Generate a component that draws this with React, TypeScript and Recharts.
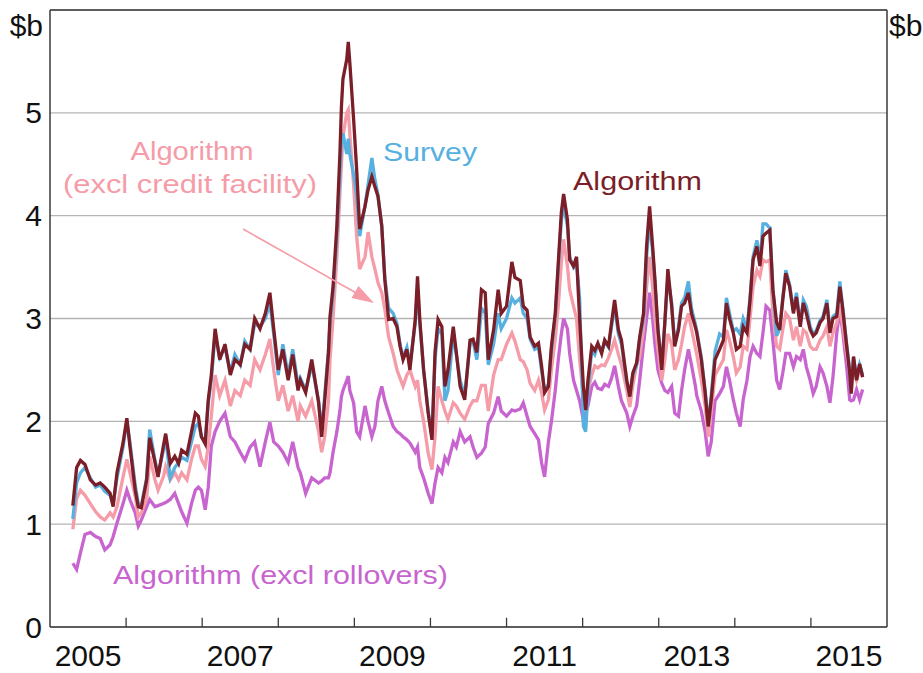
import { LineChart, Line, XAxis, YAxis, CartesianGrid, ReferenceLine } from "recharts";

// time in fractional years
const dates = [
  2005.3, 2005.35, 2005.4, 2005.46, 2005.53, 2005.6, 2005.66, 2005.72, 2005.79, 2005.83,
  2005.88, 2005.96, 2006.01, 2006.05, 2006.12, 2006.16, 2006.2, 2006.27, 2006.31, 2006.38,
  2006.42, 2006.49, 2006.52, 2006.58, 2006.64, 2006.69, 2006.73, 2006.8, 2006.86, 2006.91,
  2006.95, 2006.99, 2007.04, 2007.08, 2007.12, 2007.17, 2007.23, 2007.3, 2007.37, 2007.43,
  2007.5, 2007.56, 2007.63, 2007.69, 2007.76, 2007.83, 2007.89, 2007.94, 2008.0, 2008.06,
  2008.13, 2008.19, 2008.26, 2008.29, 2008.36, 2008.44, 2008.53, 2008.57, 2008.61, 2008.66,
  2008.68, 2008.72, 2008.77, 2008.81, 2008.83, 2008.85, 2008.9, 2008.92, 2008.94, 2008.99,
  2009.03, 2009.07, 2009.14, 2009.18, 2009.23, 2009.27, 2009.31, 2009.36, 2009.4, 2009.45,
  2009.51, 2009.56, 2009.6, 2009.64, 2009.69, 2009.73, 2009.8, 2009.83, 2009.86, 2009.91,
  2009.97, 2010.02, 2010.06, 2010.1, 2010.15, 2010.19, 2010.23, 2010.3, 2010.34, 2010.39,
  2010.45, 2010.52, 2010.56, 2010.61, 2010.67, 2010.72, 2010.76, 2010.83, 2010.89, 2010.93,
  2011.0, 2011.07, 2011.11, 2011.18, 2011.22, 2011.27, 2011.31, 2011.37, 2011.42, 2011.46,
  2011.5, 2011.55, 2011.59, 2011.64, 2011.68, 2011.72, 2011.75, 2011.8, 2011.83, 2011.88,
  2011.92, 2011.96, 2012.01, 2012.04, 2012.07, 2012.12, 2012.16, 2012.2, 2012.25, 2012.29,
  2012.34, 2012.38, 2012.42, 2012.47, 2012.51, 2012.58, 2012.62, 2012.66, 2012.71, 2012.75,
  2012.8, 2012.84, 2012.88, 2012.92, 2012.95, 2012.99, 2013.04, 2013.08, 2013.12, 2013.17,
  2013.21, 2013.26, 2013.3, 2013.34, 2013.39, 2013.43, 2013.48, 2013.5, 2013.56, 2013.61,
  2013.65, 2013.69, 2013.74, 2013.8, 2013.85, 2013.89, 2013.93, 2013.98, 2014.02, 2014.07,
  2014.11, 2014.16, 2014.2, 2014.24, 2014.29, 2014.33, 2014.37, 2014.41, 2014.46, 2014.5,
  2014.55, 2014.59, 2014.63, 2014.67, 2014.72, 2014.77, 2014.81, 2014.86, 2014.9, 2014.94,
  2014.99, 2015.03, 2015.07, 2015.12, 2015.16, 2015.21, 2015.25, 2015.29, 2015.34, 2015.38,
  2015.42, 2015.47, 2015.51, 2015.53, 2015.56, 2015.6, 2015.64, 2015.68,
];

const algorithm = [
  1.18, 1.55, 1.62, 1.58, 1.43, 1.38, 1.4, 1.36, 1.3, 1.17,
  1.5, 1.79, 2.03, 1.76, 1.33, 1.17, 1.16, 1.43, 1.84, 1.6,
  1.46, 1.76, 1.88, 1.59, 1.66, 1.59, 1.72, 1.68, 1.9, 2.08,
  2.05, 1.85, 1.78, 2.21, 2.45, 2.9, 2.6, 2.75, 2.45, 2.6,
  2.55, 2.75, 2.7, 3.0, 2.9, 3.05, 3.25, 2.9, 2.5, 2.7,
  2.4, 2.65, 2.3, 2.4, 2.28, 2.6, 2.18, 1.85, 2.2, 2.67,
  3.02, 3.31, 3.9, 4.6, 5.06, 5.33, 5.52, 5.69, 5.49, 4.94,
  4.45, 3.87, 4.09, 4.25, 4.38, 4.28, 4.19, 3.9, 3.38, 2.99,
  3.0, 2.92, 2.73, 2.6, 2.7, 2.5, 2.99, 3.41, 2.99, 2.5,
  2.08, 1.82, 2.67, 2.99, 2.92, 2.34, 2.5, 2.92, 2.67, 2.34,
  2.21, 2.79, 2.8, 2.67, 3.28, 3.25, 2.6, 2.89, 3.28, 3.05,
  3.12, 3.55, 3.4, 3.37, 3.12, 3.08, 2.82, 2.73, 2.76, 2.54,
  2.28, 2.34, 2.73, 3.05, 3.54, 4.03, 4.21, 3.96, 3.57, 3.51,
  3.6, 3.0, 2.34, 2.11, 2.4, 2.73, 2.69, 2.76, 2.66, 2.79,
  2.73, 2.96, 3.18, 2.89, 2.79, 2.4, 2.24, 2.47, 2.57, 2.82,
  3.05, 3.7, 4.09, 3.7, 3.38, 2.89, 2.5, 2.96, 3.48, 3.12,
  2.73, 2.89, 3.12, 3.15, 3.25, 3.05, 2.92, 2.86, 2.6, 2.28,
  1.95, 2.21, 2.6, 2.7, 2.79, 3.15, 3.0, 2.86, 2.7, 2.73,
  2.92, 2.86, 3.18, 3.57, 3.7, 3.51, 3.8, 3.83, 3.86, 3.28,
  2.96, 2.89, 3.18, 3.44, 3.31, 3.05, 3.21, 2.92, 3.15, 3.05,
  2.89, 2.83, 2.86, 2.96, 3.0, 3.15, 2.86, 3.0, 3.02, 3.31,
  3.08, 2.73, 2.47, 2.27, 2.63, 2.4, 2.56, 2.43,
];

const survey = [
  1.05, 1.4, 1.5, 1.55, 1.45, 1.36, 1.38, 1.32, 1.28, 1.2,
  1.45, 1.75, 2.0, 1.8, 1.38, 1.2, 1.18, 1.45, 1.92, 1.62,
  1.48, 1.72, 1.85, 1.45, 1.55, 1.6, 1.65, 1.62, 1.8, 1.95,
  1.98, 1.85, 1.8, 2.18, 2.4, 2.85, 2.62, 2.72, 2.48, 2.65,
  2.55, 2.78, 2.7, 2.95, 2.92, 3.0, 3.15, 2.85, 2.45, 2.75,
  2.45, 2.7, 2.35, 2.42, 2.3, 2.55, 2.2, 1.9, 2.25, 2.7,
  2.95, 3.25, 3.8, 4.4, 4.7, 4.8, 4.6, 4.75, 4.6, 4.4,
  4.2, 3.8, 4.1, 4.3, 4.56, 4.35, 4.2, 3.9, 3.4, 3.1,
  3.05, 2.95, 2.75, 2.62, 2.72, 2.55, 2.95, 3.3, 2.95, 2.5,
  2.1, 1.85, 2.6, 2.9, 2.85, 2.2, 2.3, 2.85, 2.65, 2.4,
  2.25, 2.75, 2.78, 2.6, 3.1, 3.05, 2.55, 2.75, 3.05, 2.9,
  3.0, 3.2, 3.15, 3.2, 3.05, 3.0, 2.8, 2.7, 2.72, 2.5,
  2.3, 2.36, 2.7, 3.02, 3.5, 3.95, 4.1, 3.9, 3.6, 3.5,
  3.55, 3.2, 1.95, 1.9, 2.3, 2.7, 2.65, 2.75, 2.68, 2.78,
  2.72, 2.92, 3.12, 2.85, 2.75, 2.38, 2.25, 2.45, 2.55, 2.8,
  3.0, 3.6, 3.95, 3.65, 3.35, 2.9, 2.55, 2.95, 3.4, 3.15,
  2.75, 2.92, 3.15, 3.2, 3.36, 3.1, 2.95, 2.88, 2.62, 2.3,
  1.98, 2.25, 2.68, 2.85, 2.82, 3.2, 3.05, 2.88, 2.9, 2.85,
  3.0, 2.9, 3.2, 3.6, 3.76, 3.55, 3.92, 3.92, 3.88, 3.3,
  2.83, 2.9, 3.2, 3.47, 3.33, 3.08, 3.25, 2.95, 3.18, 3.12,
  2.92, 2.85, 2.88, 2.98, 3.02, 3.18, 2.88, 3.02, 3.05, 3.36,
  3.1, 2.75, 2.5, 2.3, 2.62, 2.42, 2.55, 2.45,
];

const exclCreditFacility = [
  0.95, 1.25, 1.33, 1.28, 1.2, 1.12, 1.07, 1.04, 1.11, 1.07,
  1.17, 1.46, 1.63, 1.5, 1.27, 1.07, 1.11, 1.24, 1.66, 1.43,
  1.33, 1.46, 1.56, 1.43, 1.5, 1.43, 1.5, 1.43, 1.63, 1.76,
  1.76, 1.63, 1.56, 1.76, 2.05, 2.45, 2.25, 2.4, 2.15, 2.3,
  2.25, 2.4, 2.35, 2.6, 2.5, 2.65, 2.8, 2.5, 2.2, 2.35,
  2.1, 2.25, 2.0, 2.15, 2.05, 2.2, 1.9, 1.7, 1.85, 2.2,
  2.6, 3.0, 3.6, 4.2, 4.5, 4.77, 5.0, 5.03, 4.8, 4.3,
  3.8, 3.48, 3.6, 3.84, 3.6, 3.48, 3.35, 3.25, 3.09, 2.82,
  2.66, 2.5, 2.42, 2.34, 2.45, 2.5, 2.34, 2.4, 2.2, 2.0,
  1.69, 1.53, 1.85, 2.34, 2.2, 2.1, 2.02, 2.18, 2.15, 2.08,
  2.02, 2.15, 2.2, 2.2, 2.35, 2.35, 2.1, 2.45, 2.6, 2.6,
  2.75, 2.86, 2.78, 2.6, 2.58, 2.5, 2.37, 2.3, 2.4, 2.28,
  2.11, 2.21, 2.5, 2.8, 3.12, 3.54, 3.77, 3.51, 3.28, 3.12,
  3.0, 2.6, 2.24, 2.14, 2.3, 2.45, 2.54, 2.52, 2.55, 2.54,
  2.62, 2.7, 2.79, 2.65, 2.55, 2.3, 2.14, 2.35, 2.55, 2.63,
  2.9, 3.3, 3.6, 3.3, 3.0, 2.7, 2.4, 2.6, 2.85, 2.75,
  2.5, 2.6, 2.75, 2.92, 3.05, 2.9, 2.72, 2.65, 2.4, 2.15,
  1.85, 2.1, 2.45, 2.53, 2.6, 2.89, 2.79, 2.63, 2.47, 2.53,
  2.73, 2.7, 3.0, 3.31, 3.47, 3.41, 3.57, 3.55, 3.57, 3.05,
  2.73, 2.7, 2.89, 3.05, 3.0, 2.79, 2.92, 2.73, 2.89, 2.86,
  2.73, 2.7, 2.7, 2.79, 2.83, 2.92, 2.73, 2.86, 2.96, 3.12,
  2.92, 2.66, 2.47, 2.34, 2.53, 2.4, 2.5, 2.43,
];

const exclRollovers = [
  0.62, 0.56, 0.72, 0.9, 0.92, 0.88, 0.86, 0.75, 0.8, 0.88,
  1.01, 1.2, 1.33, 1.24, 1.11, 0.98, 1.04, 1.17, 1.24, 1.17,
  1.18, 1.2, 1.21, 1.24, 1.3, 1.2, 1.12, 1.01, 1.2, 1.33,
  1.36, 1.33, 1.14, 1.36, 1.76, 1.9, 2.0, 2.08, 1.85, 1.8,
  1.7, 1.62, 1.75, 1.8, 1.56, 1.8, 1.99, 1.8, 1.76, 1.7,
  1.6, 1.8, 1.55, 1.5, 1.3, 1.45, 1.4, 1.42, 1.45, 1.45,
  1.5, 1.7, 1.9, 2.1, 2.24, 2.3, 2.4, 2.44, 2.3, 2.18,
  1.9, 1.85, 2.15, 2.0, 1.85, 1.95, 2.2, 2.34, 2.2, 2.08,
  1.95, 1.9, 1.88, 1.85, 1.82, 1.79, 1.7, 1.75, 1.55, 1.45,
  1.3, 1.2, 1.4, 1.55, 1.5, 1.65, 1.6, 1.8, 1.75, 1.9,
  1.8, 1.85, 1.75, 1.65, 1.69, 1.75, 1.98, 2.08, 2.24, 2.1,
  2.05, 2.11, 2.1, 2.12, 2.18, 2.05, 1.95, 1.88, 1.82, 1.6,
  1.46, 1.8, 2.0, 2.3, 2.6, 2.85, 3.0, 2.9, 2.66, 2.4,
  2.3, 2.2, 2.01, 2.08, 2.15, 2.34, 2.38, 2.32, 2.31, 2.36,
  2.34, 2.42, 2.54, 2.34, 2.2, 2.08, 1.95, 2.05, 2.15, 2.4,
  2.75, 3.0, 3.25, 3.0, 2.75, 2.5, 2.37, 2.3, 2.28, 2.34,
  2.08, 2.05, 2.3, 2.5, 2.7, 2.55, 2.35, 2.25, 2.1, 1.9,
  1.66, 1.8, 2.2, 2.27, 2.34, 2.53, 2.4, 2.21, 2.08, 1.95,
  2.21, 2.4, 2.63, 2.73, 2.66, 2.63, 2.86, 3.12, 3.08, 2.79,
  2.4, 2.31, 2.47, 2.66, 2.66, 2.53, 2.63, 2.6, 2.7, 2.53,
  2.4, 2.27, 2.34, 2.53, 2.47, 2.34, 2.18, 2.43, 2.86, 3.08,
  2.86, 2.53, 2.21, 2.2, 2.21, 2.31, 2.21, 2.31,
];

const yearBoundaries = [2006, 2007, 2008, 2009, 2010, 2011, 2012, 2013, 2014, 2015];
const yearLabelTicks = [2005.5, 2007.5, 2009.5, 2011.5, 2013.5, 2015.5];
const valueTicks = [0, 1, 2, 3, 4, 5];

const data = dates.map((t, i) => ({
  t,
  algorithm: algorithm[i],
  survey: survey[i],
  exclCredit: exclCreditFacility[i],
  exclRollovers: exclRollovers[i],
}));

const FONT = '"Liberation Sans", Arial, sans-serif';
const W = 923;
const H = 673;

const DARK_RED = "#7b1e27";
const BLUE = "#56b0e0";
const PINK = "#f59ca8";
const PURPLE = "#c864cf";
const FRAME = "#3a3a3a";

// short tick pointing up into the plot from the bottom axis
const InwardTick = (props: any) => {
  const { x, y } = props;
  return <line x1={x} x2={x} y1={y} y2={y - 9} stroke={FRAME} strokeWidth={1.3} />;
};

export default function App() {
  return (
    <div style={{ position: "absolute", left: 0, top: 0, width: W, height: H, background: "#fff", fontFamily: FONT }}>
      <LineChart width={W} height={H} data={data} margin={{ top: 10, right: 0, left: 8, bottom: 6 }}>
        <CartesianGrid xAxisId="lab" yAxisId="left" vertical={false} stroke="#b4b4b4" strokeWidth={1.3} />
        <XAxis
          xAxisId="lab"
          type="number"
          dataKey="t"
          domain={[2005, 2016]}
          ticks={yearLabelTicks}
          allowDataOverflow
          height={40}
          tickSize={16}
          tickMargin={2}
          axisLine={false}
          tickLine={false}
          tickFormatter={(v: number) => String(Math.floor(v))}
          tick={{ fill: "#111", fontSize: 30, fontFamily: FONT }}
        />
        <XAxis
          xAxisId="tk"
          type="number"
          domain={[2005, 2016]}
          ticks={yearBoundaries}
          allowDataOverflow
          orientation="top"
          height={0}
          tickSize={0}
          tickMargin={0}
          axisLine={false}
          tickLine={false}
          tick={false}
        />
        <YAxis
          yAxisId="left"
          domain={[0, 6]}
          ticks={valueTicks}
          width={42}
          tickLine={false}
          tickSize={6}
          tickMargin={2}
          axisLine={{ stroke: FRAME, strokeWidth: 1.5 }}
          tick={{ fill: "#111", fontSize: 30, fontFamily: FONT }}
        />
        <YAxis
          yAxisId="right"
          orientation="right"
          domain={[0, 6]}
          ticks={valueTicks}
          width={36}
          tickLine={false}
          tickSize={0}
          tickMargin={3}
          axisLine={{ stroke: FRAME, strokeWidth: 1.5 }}
          tick={{ fill: "#111", fontSize: 30, fontFamily: FONT }}
        />
        <ReferenceLine xAxisId="lab" yAxisId="left" y={6} stroke={FRAME} strokeWidth={1.5} />
        <ReferenceLine xAxisId="lab" yAxisId="left" y={0} stroke={FRAME} strokeWidth={1.5} />
        {yearBoundaries.map((yr) => (
          <ReferenceLine
            key={yr}
            xAxisId="lab"
            yAxisId="left"
            segment={[{ x: yr, y: 0 }, { x: yr, y: 0.09 }]}
            stroke={FRAME}
            strokeWidth={1.3}
          />
        ))}
        <Line xAxisId="lab" yAxisId="left" dataKey="exclRollovers" stroke={PURPLE} strokeWidth={3.3} dot={false} isAnimationActive={false} />
        <Line xAxisId="lab" yAxisId="left" dataKey="exclCredit" stroke={PINK} strokeWidth={3.3} dot={false} isAnimationActive={false} />
        <Line xAxisId="lab" yAxisId="left" dataKey="survey" stroke={BLUE} strokeWidth={3.3} dot={false} isAnimationActive={false} />
        <Line xAxisId="lab" yAxisId="left" dataKey="algorithm" stroke={DARK_RED} strokeWidth={3.3} dot={false} isAnimationActive={false} />
      </LineChart>

      <svg width={W} height={H} style={{ position: "absolute", left: 0, top: 0, pointerEvents: "none" }} fontFamily={FONT}>
        <text x={43} y={36} fontSize={30} textAnchor="end" fill="#111">$b</text>
        <text x={889} y={36} fontSize={30} textAnchor="start" fill="#111">$b</text>

        <text x={383} y={161} fontSize={26} fill={BLUE} textLength={94} lengthAdjust="spacingAndGlyphs">Survey</text>
        <text x={573} y={190} fontSize={26} fill={DARK_RED} textLength={129} lengthAdjust="spacingAndGlyphs">Algorithm</text>
        <text x={192} y={160} fontSize={26} fill={PINK} textAnchor="middle" textLength={123} lengthAdjust="spacingAndGlyphs">Algorithm</text>
        <text x={190} y={193} fontSize={26} fill={PINK} textAnchor="middle" textLength={254} lengthAdjust="spacingAndGlyphs">(excl credit facility)</text>
        <text x={113} y={584} fontSize={26} fill={PURPLE} textLength={335} lengthAdjust="spacingAndGlyphs">Algorithm (excl rollovers)</text>

        <line x1={243} y1={229} x2={358} y2={294} stroke={PINK} strokeWidth={1.6} />
        <polygon points="374,303 351.5,298 358.5,286" fill={PINK} />
      </svg>
    </div>
  );
}
